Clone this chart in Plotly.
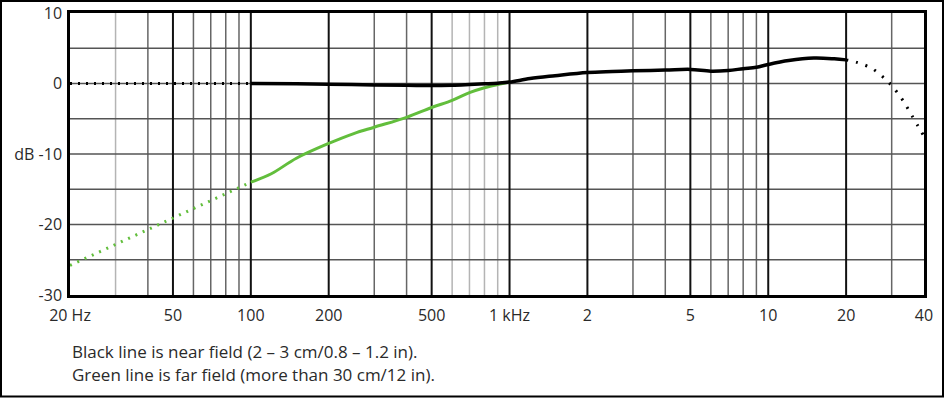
import plotly.graph_objects as go

# ---- data ----
near_dot_lo_freq = [20, 100]
near_dot_lo_db = [0.0, 0.0]

near_freq = [100, 150, 200, 300, 400, 500, 600, 700, 800, 900, 1000, 1200, 1500, 2000,
             2500, 3000, 4000, 5000, 6000, 7000, 8000, 9000, 10000, 12000, 15000, 18000, 20000]
near_db = [0.0, -0.05, -0.1, -0.2, -0.25, -0.3, -0.25, -0.15, -0.05, 0.05, 0.2, 0.7, 1.1, 1.55,
           1.7, 1.8, 1.9, 2.0, 1.75, 1.85, 2.1, 2.3, 2.7, 3.25, 3.6, 3.5, 3.35]

near_dot_hi_freq = [20000, 22000, 25000, 28000, 30000, 33000, 36000, 40000]
near_dot_hi_db = [3.35, 3.0, 2.2, 0.8, -0.3, -2.3, -4.6, -7.5]

far_dot_freq = [20, 100]
far_dot_db = [-25.8, -14.0]

far_freq = [100, 120, 150, 200, 250, 300, 400, 500, 600, 700, 800, 900, 1000]
far_db = [-14.0, -12.8, -10.6, -8.5, -7.1, -6.2, -4.8, -3.4, -2.4, -1.3, -0.6, -0.15, 0.2]

x_tick_vals = [20, 50, 100, 200, 500, 1000, 2000, 5000, 10000, 20000, 40000]
x_tick_text = ["20 Hz", "50", "100", "200", "500", "1 kHz", "2", "5", "10", "20", "40"]
y_tick_vals = [-30, -20, -10, 0, 10]
y_tick_text = ["-30", "-20", "dB -10", "0", "10"]

grid_thick = [50, 100, 200, 500, 1000, 2000, 5000, 10000, 20000]
grid_mid = [40, 60, 70, 80, 90, 300, 400, 3000, 4000, 6000, 7000, 8000, 9000, 30000]
grid_light = [30, 600, 700, 800, 900]
grid_h = [-25, -20, -15, -10, -5, 0, 5]

notes = ["Black line is near field (2 – 3 cm/0.8 – 1.2 in).",
         "Green line is far field (more than 30 cm/12 in)."]

BLACK = "#000000"
GREEN = "#62BE3C"
TXT = "#2a2a2a"
FONT = "'Open Sans', Lato, sans-serif"

fig = go.Figure()

shapes = []
for f in grid_light:
    shapes.append(dict(type="line", xref="x", yref="paper", x0=f, x1=f, y0=0, y1=1,
                       line=dict(color="#b4b4b4", width=1.5), layer="below"))
for f in grid_mid:
    shapes.append(dict(type="line", xref="x", yref="paper", x0=f, x1=f, y0=0, y1=1,
                       line=dict(color="#666666", width=1.5), layer="below"))
for v in grid_h:
    shapes.append(dict(type="line", xref="paper", yref="y", x0=0, x1=1, y0=v, y1=v,
                       line=dict(color="#555555", width=1.5), layer="below"))
for f in grid_thick:
    shapes.append(dict(type="line", xref="x", yref="paper", x0=f, x1=f, y0=0, y1=1,
                       line=dict(color="#111111", width=2), layer="below"))

W, H = 945, 398
ml, mr, mt, mb = 70, 21, 13, 103
pw, ph = W - ml - mr, H - mt - mb
shapes.append(dict(type="rect", xref="paper", yref="paper",
                   x0=(1 - ml) / pw, x1=(W - 2 - ml) / pw,
                   y0=-(mb - 1.5) / ph, y1=(H - mb - 1) / ph,
                   line=dict(color="#000000", width=2)))

fig.add_trace(go.Scatter(x=far_dot_freq, y=far_dot_db, mode="lines",
                         line=dict(color=GREEN, width=3, dash="2px,6px"), hoverinfo="skip"))
fig.add_trace(go.Scatter(x=far_freq, y=far_db, mode="lines",
                         line=dict(color=GREEN, width=3, shape="spline"), hoverinfo="skip"))
fig.add_trace(go.Scatter(x=near_dot_lo_freq, y=near_dot_lo_db, mode="lines",
                         line=dict(color=BLACK, width=3, dash="2px,6px"), hoverinfo="skip"))
fig.add_trace(go.Scatter(x=near_dot_hi_freq, y=near_dot_hi_db, mode="lines",
                         line=dict(color=BLACK, width=3, dash="2px,8px", shape="spline"),
                         hoverinfo="skip"))
fig.add_trace(go.Scatter(x=near_freq, y=near_db, mode="lines",
                         line=dict(color=BLACK, width=3.5, shape="spline"), hoverinfo="skip"))

annotations = []
for i, t in enumerate(notes):
    annotations.append(dict(text=t, xref="paper", yref="paper",
                            x=0, y=-(351 + 23 * i - (H - mb)) / ph,
                            xanchor="left", yanchor="middle", showarrow=False,
                            font=dict(family=FONT, size=17, color=TXT)))

fig.update_layout(
    width=W, height=H,
    margin=dict(l=ml, r=mr, t=mt, b=mb, autoexpand=False),
    paper_bgcolor="white", plot_bgcolor="white",
    showlegend=False,
    shapes=shapes,
    annotations=annotations,
    font=dict(family=FONT, size=16, color=TXT),
    xaxis=dict(type="log", range=[1.30103, 4.60206], tickvals=x_tick_vals,
               ticktext=x_tick_text, showgrid=False, zeroline=False,
               showline=True, linecolor="#000000", linewidth=2.5, mirror=True,
               ticks="", ticklen=0, fixedrange=True, automargin=False,
               ticklabelstandoff=4),
    yaxis=dict(range=[-30, 10], tickvals=y_tick_vals, ticktext=y_tick_text,
               showgrid=False, zeroline=False, showline=True, linecolor="#000000",
               linewidth=2.5, mirror=True, ticks="", fixedrange=True, automargin=False,
               ticklabelstandoff=2),
)

post = ("document.body.style.margin='0';"
        "var d=document.getElementById('{plot_id}');"
        "d.style.position='fixed';d.style.left='0px';d.style.top='0px';")

fig.write_html("out.html", post_script=post, config={"displayModeBar": False})
